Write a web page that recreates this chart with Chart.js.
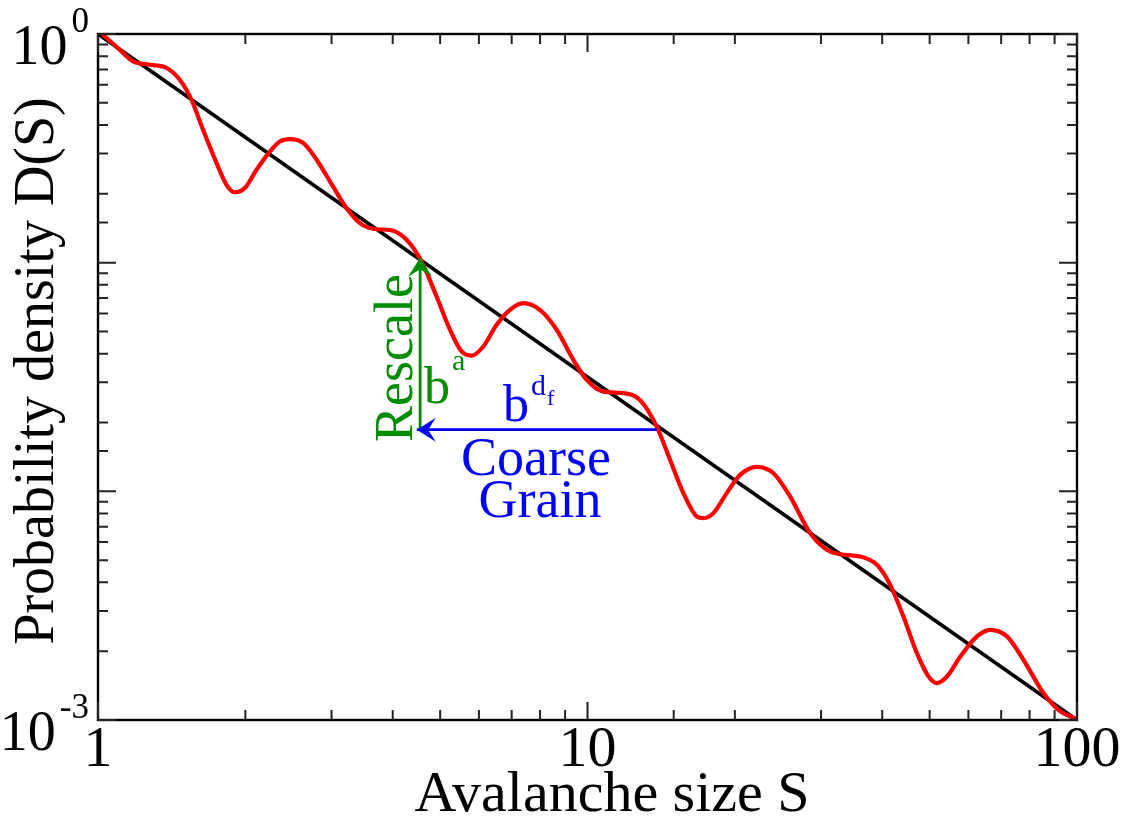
<!DOCTYPE html>
<html>
<head>
  <title>Avalanche size distribution</title>
  <style>
    body { margin: 0; background: #fff; }
    canvas { display: block; }
  </style>
</head>
<body>
  <canvas id="avalancheChart" width="1127" height="822"></canvas>

  <script src="https://cdn.jsdelivr.net/npm/chart.js"></script>
  <script>
    // red curve (S, D)
    const sizeS = [1.02, 1.107, 1.179, 1.276, 1.380, 1.469, 1.552, 1.639, 1.746, 1.830,
      1.903, 1.995, 2.108, 2.244, 2.352, 2.465, 2.625, 2.796, 3.022, 3.220,
      3.428, 3.709, 3.948, 4.270, 4.583, 4.917, 5.236, 5.531, 5.799, 6.124,
      6.522, 6.943, 7.392, 7.995, 8.650, 9.354, 9.963, 10.77, 11.84, 12.80,
      13.85, 14.75, 15.70, 16.72, 17.25, 18.08, 19.25, 20.50, 22.18, 23.98,
      25.94, 28.50, 30.83, 33.34, 36.06, 39.01, 41.53, 44.21, 47.09, 49.74,
      51.74, 54.24, 57.72, 62.46, 66.49, 71.93, 77.77, 85.44, 92.45, 98.42, 100];
    const densityD = [1.0, 0.854, 0.759, 0.734, 0.710, 0.631, 0.516, 0.381, 0.273, 0.219,
      0.203, 0.212, 0.255, 0.306, 0.339, 0.347, 0.334, 0.282, 0.215, 0.173,
      0.149, 0.140, 0.139, 0.126, 0.101, 0.0711, 0.0509, 0.0409, 0.0392, 0.0430,
      0.0535, 0.0622, 0.0666, 0.0622, 0.0509, 0.0376, 0.0307, 0.0273, 0.0269, 0.0251,
      0.0192, 0.0137, 0.00982, 0.00776, 0.00763, 0.00803, 0.00982, 0.0118, 0.0128, 0.0120,
      0.00949, 0.00657, 0.00555, 0.00528, 0.00519, 0.00477, 0.00390, 0.00283, 0.00196, 0.00155,
      0.00145, 0.00155, 0.00189, 0.00232, 0.00248, 0.00232, 0.00183, 0.00131, 0.00109, 0.00102, 0.00100];

    // black power law
    const powerS = [1, 100];
    const powerD = [1, 0.001];

    // arrows (tail first, tip last)
    const rescaleS = [4.55, 4.55];
    const rescaleD = [0.0186, 0.105];
    const coarseS = [13.85, 4.48];
    const coarseD = [0.0186, 0.0186];

    const xTickLabels = ['1', '10', '100'];
    const yTickValues = [1, 0.001];
    const yTickExps = ['0', '-3'];

    const GREEN = '#008c00';
    const BLUE = '#0000ff';
    const SERIF = '"Liberation Serif", "Times New Roman", serif';

    const pts = (xs, ys) => xs.map((v, i) => ({ x: v, y: ys[i] }));
    const isMajor = v => Math.abs(Math.log10(v) - Math.round(Math.log10(v))) < 1e-6;

    function arrowHead(ctx, from, to, color) {
      const ang = Math.atan2(to.y - from.y, to.x - from.x);
      const L = 19, W = 12;
      ctx.save();
      ctx.translate(to.x, to.y);
      ctx.rotate(ang);
      ctx.fillStyle = color;
      ctx.beginPath();
      ctx.moveTo(0, 0);
      ctx.lineTo(-L, W);
      ctx.lineTo(-0.6 * L, 0);
      ctx.lineTo(-L, -W);
      ctx.closePath();
      ctx.fill();
      ctx.restore();
    }

    const overlay = {
      id: 'overlay',
      afterDraw(chart) {
        const { ctx, chartArea: a, scales: { x, y } } = chart;
        ctx.save();

        // frame
        ctx.strokeStyle = '#000';
        ctx.lineWidth = 2.4;
        ctx.strokeRect(a.left, a.top, a.right - a.left, a.bottom - a.top);

        // inward ticks on all four sides
        ctx.lineWidth = 2;
        ctx.strokeStyle = '#222';
        ctx.beginPath();
        x.ticks.forEach(t => {
          const px = x.getPixelForValue(t.value);
          const len = isMajor(t.value) ? 18 : 10;
          ctx.moveTo(px, a.bottom); ctx.lineTo(px, a.bottom - len);
          ctx.moveTo(px, a.top); ctx.lineTo(px, a.top + len);
        });
        y.ticks.forEach(t => {
          const py = y.getPixelForValue(t.value);
          const len = isMajor(t.value) ? 18 : 10;
          ctx.moveTo(a.left, py); ctx.lineTo(a.left + len, py);
          ctx.moveTo(a.right, py); ctx.lineTo(a.right - len, py);
        });
        ctx.stroke();

        // y tick labels 10^n
        ctx.fillStyle = '#000';
        ctx.textAlign = 'right';
        ctx.textBaseline = 'alphabetic';
        yTickValues.forEach((v, i) => {
          const py = y.getPixelForValue(v);
          ctx.font = '35px ' + SERIF;
          const w = ctx.measureText(yTickExps[i]).width;
          ctx.fillText(yTickExps[i], a.left - 9, py - 2);
          ctx.font = '56px ' + SERIF;
          ctx.fillText('10', a.left - 9 - w - 4, py + 30);
        });

        // axis titles
        ctx.textAlign = 'center';
        ctx.font = '58px ' + SERIF;
        ctx.fillText('Avalanche size S', 612, 811);
        ctx.save();
        ctx.translate(53, 371);
        ctx.rotate(-Math.PI / 2);
        ctx.font = '56px ' + SERIF;
        ctx.fillText('Probability density D(S)', 0, 0);
        ctx.restore();

        // arrow heads
        [[2, GREEN], [3, BLUE]].forEach(([idx, col]) => {
          const d = chart.getDatasetMeta(idx).data;
          arrowHead(ctx, d[0], d[d.length - 1], col);
        });

        // annotations
        ctx.fillStyle = GREEN;
        ctx.save();
        ctx.translate(412, 358);
        ctx.rotate(-Math.PI / 2);
        ctx.font = '54px ' + SERIF;
        ctx.fillText('Rescale', 0, 0);
        ctx.restore();
        ctx.textAlign = 'left';
        ctx.font = '52px ' + SERIF;
        ctx.fillText('b', 424, 403);
        ctx.font = '30px ' + SERIF;
        ctx.fillText('a', 452, 370);

        ctx.fillStyle = BLUE;
        ctx.font = '52px ' + SERIF;
        ctx.fillText('b', 503, 421);
        ctx.font = '30px ' + SERIF;
        ctx.fillText('d', 531, 395);
        ctx.font = '22px ' + SERIF;
        ctx.fillText('f', 547, 405);
        ctx.textAlign = 'center';
        ctx.font = '54px ' + SERIF;
        ctx.fillText('Coarse', 536, 475);
        ctx.fillText('Grain', 540, 517);

        ctx.restore();
      }
    };

    new Chart(document.getElementById('avalancheChart').getContext('2d'), {
      type: 'line',
      data: {
        datasets: [
          { data: pts(powerS, powerD), borderColor: '#000', borderWidth: 3.6, pointRadius: 0, order: 2 },
          { data: pts(sizeS, densityD), borderColor: '#ff0000', borderWidth: 4.2, pointRadius: 0,
            cubicInterpolationMode: 'monotone', order: 1 },
          { data: pts(rescaleS, rescaleD), borderColor: GREEN, borderWidth: 2.8, pointRadius: 0, order: 0 },
          { data: pts(coarseS, coarseD), borderColor: BLUE, borderWidth: 2.8, pointRadius: 0, order: 0 }
        ]
      },
      options: {
        responsive: false,
        animation: false,
        layout: { padding: { top: 34, right: 50, left: 0, bottom: 0 } },
        plugins: { legend: { display: false }, tooltip: { enabled: false } },
        scales: {
          x: {
            type: 'logarithmic',
            min: 1,
            max: 100,
            grid: { display: false },
            border: { display: false },
            ticks: {
              autoSkip: false,
              maxRotation: 0,
              padding: -12,
              color: '#000',
              font: { family: SERIF, size: 58 },
              callback: v => xTickLabels.includes(String(v)) ? String(v) : ''
            },
            afterFit: s => { s.height = 102; }
          },
          y: {
            type: 'logarithmic',
            min: 0.001,
            max: 1,
            grid: { display: false },
            border: { display: false },
            ticks: { display: false },
            afterFit: s => { s.width = 98; }
          }
        }
      },
      plugins: [overlay]
    });
  </script>
</body>
</html>
